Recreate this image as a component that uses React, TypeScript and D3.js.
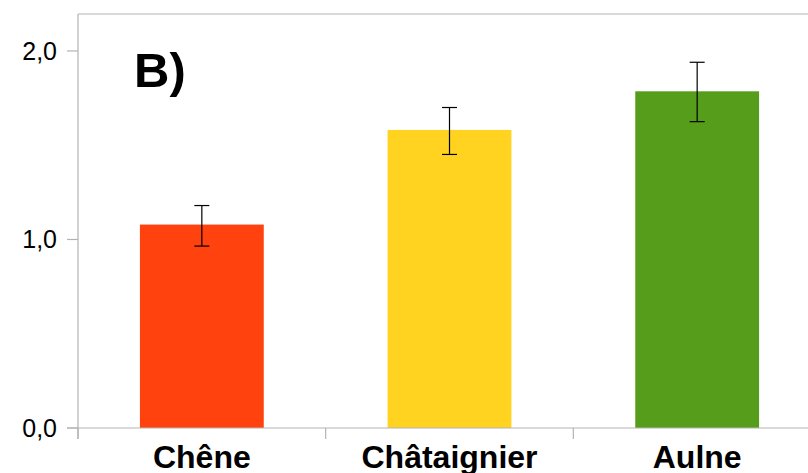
import React from "react";
import * as d3 from "d3";

const categories = ["Chêne", "Châtaignier", "Aulne"];
const means = [1.079, 1.581, 1.786];
const errUpper = [1.18, 1.70, 1.94];
const errLower = [0.965, 1.451, 1.625];
const barColors = ["#ff420e", "#ffd320", "#579d1c"];
const yTicks = [0, 1, 2];
const panelLabel = "B)";

const W = 808;
const H = 473;
const margin = { left: 78, top: 14, right: -13, bottom: 45 };

export default function App() {
  const plotRight = W - margin.right;
  const plotBottom = H - margin.bottom;

  const x = d3
    .scaleBand<string>()
    .domain(categories)
    .range([margin.left, plotRight])
    .paddingInner(0.5)
    .paddingOuter(0.25);

  const y = d3.scaleLinear().domain([0, 2.196]).range([plotBottom, margin.top]);
  const fmt = (v: number) => v.toFixed(1).replace(".", ",");
  const axisColor = "#b3b3b3";
  const step = x.step();

  return (
    <svg
      width={W}
      height={H}
      style={{ position: "absolute", left: 0, top: 0, fontFamily: "'Liberation Sans', Arial, sans-serif" }}
    >
      <rect width={W} height={H} fill="#fff" />
      {/* frame: top and left */}
      <line x1={margin.left} x2={plotRight} y1={margin.top} y2={margin.top} stroke={axisColor} strokeWidth={1.2} />
      <line x1={margin.left} x2={margin.left} y1={margin.top} y2={plotBottom + 11} stroke={axisColor} strokeWidth={1.2} />
      {/* bars */}
      {categories.map((c, i) => (
        <rect
          key={c}
          x={x(c)}
          y={y(means[i])}
          width={x.bandwidth()}
          height={plotBottom - y(means[i])}
          fill={barColors[i]}
        />
      ))}
      {/* error bars */}
      {categories.map((c, i) => {
        const cx = (x(c) as number) + x.bandwidth() / 2;
        return (
          <g key={c + "-err"} stroke="#000" strokeWidth={1.2}>
            <line x1={cx} x2={cx} y1={y(errUpper[i])} y2={y(errLower[i])} />
            <line x1={cx - 7.5} x2={cx + 7.5} y1={y(errUpper[i])} y2={y(errUpper[i])} />
            <line x1={cx - 7.5} x2={cx + 7.5} y1={y(errLower[i])} y2={y(errLower[i])} />
          </g>
        );
      })}
      {/* x axis */}
      <line x1={margin.left - 11} x2={plotRight} y1={plotBottom} y2={plotBottom} stroke={axisColor} strokeWidth={1.2} />
      {categories.map((c, i) => (
        <line
          key={c + "-tick"}
          x1={margin.left + step * i}
          x2={margin.left + step * i}
          y1={plotBottom}
          y2={plotBottom + 11}
          stroke={axisColor}
          strokeWidth={1.2}
        />
      ))}
      {categories.map((c) => (
        <text
          key={c + "-label"}
          x={(x(c) as number) + x.bandwidth() / 2}
          y={plotBottom + 40}
          textAnchor="middle"
          fontSize={32}
          fontWeight="bold"
          fill="#000"
        >
          {c}
        </text>
      ))}
      {/* y axis ticks */}
      {yTicks.map((t) => (
        <g key={t}>
          <line x1={margin.left - 11} x2={margin.left} y1={y(t)} y2={y(t)} stroke={axisColor} strokeWidth={1.2} />
          <text x={57} y={y(t) + 9} textAnchor="end" fontSize={25} fill="#000">
            {fmt(t)}
          </text>
        </g>
      ))}
      <text x={134} y={87} fontSize={49} fontWeight="bold" fill="#000">
        {panelLabel}
      </text>
    </svg>
  );
}
